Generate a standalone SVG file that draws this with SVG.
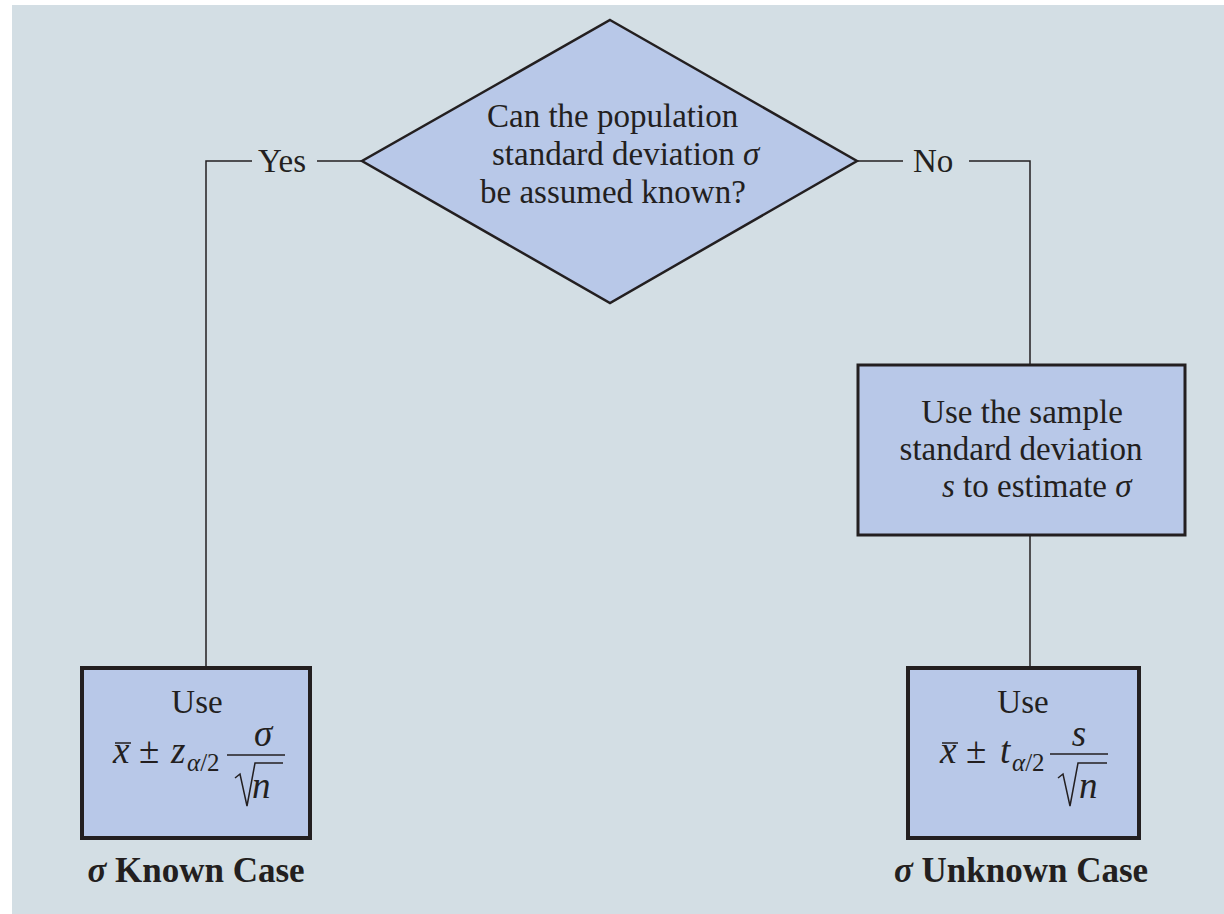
<svg xmlns="http://www.w3.org/2000/svg" width="1224" height="914" viewBox="0 0 1224 914">
<style>
.t{font-family:"Liberation Serif","Times New Roman",serif;font-size:33px;fill:#231f20}
.i{font-style:italic}
.f{font-size:37px}
.b{font-weight:bold;font-size:35px}
.sub{font-size:25px}
.box{fill:#b8c8e8;stroke:#231f20}
.ln{stroke:#231f20;stroke-width:1.5;fill:none}
</style>
<rect x="12" y="5" width="1212" height="909" fill="#d3dee4"/>
<g id="connectors">
<path class="ln" d="M252,161 H206 V668"/>
<path class="ln" d="M317,161 H362"/>
<path class="ln" d="M857,161 H903"/>
<path class="ln" d="M969,161 H1030 V365"/>
<path class="ln" d="M1030,535 V668"/>
<text class="t" x="258" y="172">Yes</text>
<text class="t" x="913" y="172">No</text>
</g>
<g id="decision">
<polygon class="box" stroke-width="2.5" points="610,20 857,161 610,303 362,161"/>
<text class="t" x="487" y="127" font-size="32.5">Can the population</text>
<text class="t" x="492" y="165" font-size="32.5">standard deviation <tspan class="i">σ</tspan></text>
<text class="t" x="480" y="203" font-size="32.5">be assumed known?</text>
</g>
<g id="estimate">
<rect class="box" stroke-width="3" x="858" y="365" width="327" height="170"/>
<text class="t" x="1022" y="423" text-anchor="middle">Use the sample</text>
<text class="t" x="1021" y="460" text-anchor="middle">standard deviation</text>
<text class="t" x="942" y="497"><tspan class="i">s</tspan> to estimate <tspan class="i">σ</tspan></text>
</g>
<g id="known">
<rect class="box" stroke-width="4" x="82" y="668" width="228" height="170"/>
<text class="t" x="197" y="713" text-anchor="middle">Use</text>
<text class="t f i" x="113" y="763">x</text>
<line class="ln" x1="115" y1="743" x2="131" y2="743" stroke-width="1.4"/>
<text class="t f" x="139" y="763">±</text>
<text class="t f i" x="171" y="763">z</text>
<text class="t sub" x="187" y="771"><tspan class="i">α</tspan>/2</text>
<line class="ln" x1="227" y1="755" x2="285" y2="755"/>
<text class="t f i" x="263" y="746" text-anchor="middle">σ</text>
<path class="ln" d="M235,778 L240,774 L247,806 L255,763 H283"/>
<text class="t f i" x="252" y="798">n</text>
<text class="t b" x="196" y="882" text-anchor="middle"><tspan class="i">σ</tspan> Known Case</text>
</g>
<g id="unknown">
<rect class="box" stroke-width="4" x="908" y="668" width="231" height="170"/>
<text class="t" x="1023" y="713" text-anchor="middle">Use</text>
<text class="t f i" x="940" y="763">x</text>
<line class="ln" x1="942" y1="743" x2="958" y2="743" stroke-width="1.4"/>
<text class="t f" x="966" y="763">±</text>
<text class="t f i" x="1000" y="763">t</text>
<text class="t sub" x="1012" y="771"><tspan class="i">α</tspan>/2</text>
<line class="ln" x1="1050" y1="754" x2="1108" y2="754"/>
<text class="t f i" x="1079" y="746" text-anchor="middle">s</text>
<path class="ln" d="M1058,778 L1063,774 L1070,806 L1078,763 H1107"/>
<text class="t f i" x="1079" y="798">n</text>
<text class="t b" x="1021" y="882" text-anchor="middle"><tspan class="i">σ</tspan> Unknown Case</text>
</g>
</svg>
